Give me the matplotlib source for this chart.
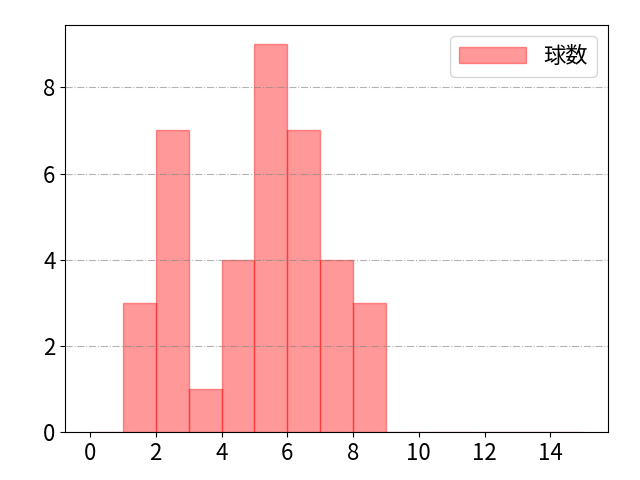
import numpy as np
import matplotlib
matplotlib.use("Agg")
import matplotlib.pyplot as plt

plt.rcParams['font.family'] = ['Noto Sans CJK JP', 'DejaVu Sans']

# pitch count histogram
bin_edges = list(range(0, 16))
counts = [0, 3, 7, 1, 4, 9, 7, 4, 3, 0, 0, 0, 0, 0, 0]
label = '球数'

fig, ax = plt.subplots(figsize=(6.4, 4.8), dpi=100)
ax.hist(bin_edges[:-1], bins=bin_edges, weights=counts,
        color='red', alpha=0.4, edgecolor='red', linewidth=1, label=label)
ax.grid(axis='y', linestyle='-.', color='gray', alpha=0.6)
ax.set_axisbelow(False)
ax.set_xticks(range(0, 16, 2))
ax.tick_params(labelsize=16)
ax.legend(fontsize=16, handlelength=3)
fig.subplots_adjust(left=0.102, right=0.950, top=0.948, bottom=0.100)
fig.savefig('out.png')
